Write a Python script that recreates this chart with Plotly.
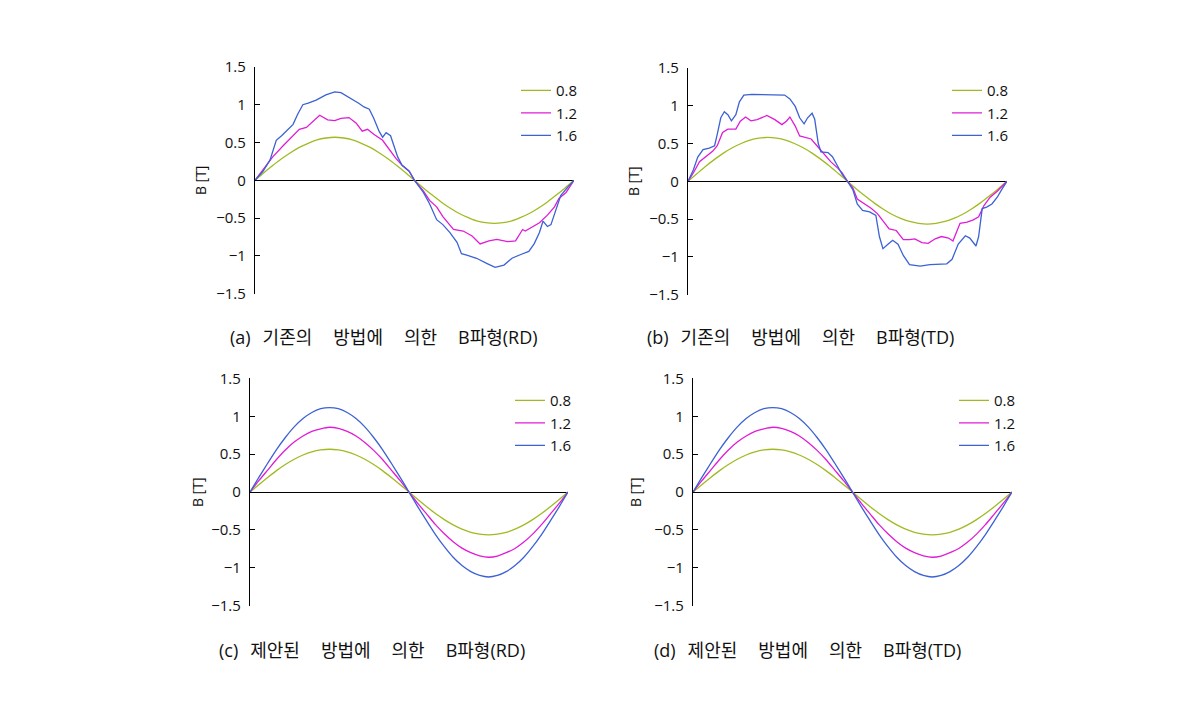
import plotly.graph_objects as go

W, H = 1190, 711

# ---------------- data (degrees of one period, flux density B [T]) ----------------
deg10 = [0, 10, 20, 30, 40, 50, 60, 70, 80, 90, 100, 110, 120, 130, 140, 150, 160, 170, 180,
         190, 200, 210, 220, 230, 240, 250, 260, 270, 280, 290, 300, 310, 320, 330, 340, 350, 360]

# (a) conventional method, RD
green_a = [0, 0.10, 0.195, 0.285, 0.365, 0.435, 0.49, 0.535, 0.56, 0.57, 0.56, 0.535, 0.49, 0.435, 0.365, 0.285, 0.195, 0.10, 0,
           -0.10, -0.195, -0.285, -0.365, -0.435, -0.49, -0.535, -0.56, -0.57, -0.56, -0.535, -0.49, -0.435, -0.365, -0.285, -0.195, -0.10, 0]
mag_a_deg = [0, 9, 20, 32, 43, 50, 58, 65, 73, 82, 90, 97, 106, 114, 121, 127, 134, 144, 151, 159, 166, 174, 180,
             190, 197, 205, 212, 224, 235, 245, 254, 264, 273, 285, 294, 302, 305, 313, 321, 330, 338, 343, 351, 360]
mag_a = [0, 0.14, 0.31, 0.46, 0.59, 0.675, 0.70, 0.78, 0.86, 0.80, 0.79, 0.82, 0.83, 0.76, 0.65, 0.675, 0.61, 0.53, 0.42, 0.29, 0.20, 0.12, 0,
         -0.14, -0.265, -0.35, -0.48, -0.65, -0.67, -0.735, -0.84, -0.80, -0.78, -0.81, -0.80, -0.65, -0.67, -0.61, -0.56, -0.46, -0.35, -0.24, -0.16, 0]
blue_a_deg = [0, 9, 17, 24, 30, 35, 43, 48, 54, 60, 69, 80, 90, 97, 106, 117, 123, 129, 134, 140, 144, 148, 153, 157, 161, 166, 174, 180,
              190, 197, 205, 212, 220, 228, 233, 239, 250, 262, 271, 281, 290, 300, 309, 315, 321, 325, 330, 334, 340, 345, 353, 360]
blue_a = [0, 0.12, 0.27, 0.53, 0.59, 0.65, 0.74, 0.87, 1.0, 1.02, 1.06, 1.13, 1.17, 1.16, 1.10, 1.02, 0.97, 0.94, 0.82, 0.65, 0.57, 0.63, 0.59, 0.44, 0.31, 0.20, 0.12, 0,
          -0.16, -0.31, -0.52, -0.585, -0.69, -0.82, -0.97, -0.99, -1.03, -1.10, -1.15, -1.12, -1.03, -0.98, -0.94, -0.84, -0.69, -0.54, -0.61, -0.585, -0.39, -0.20, -0.09, 0]

# (b) conventional method, TD
green_b = [0, 0.10, 0.20, 0.29, 0.373, 0.444, 0.50, 0.545, 0.571, 0.58, 0.571, 0.545, 0.50, 0.444, 0.373, 0.29, 0.20, 0.10, 0,
           -0.10, -0.195, -0.285, -0.365, -0.435, -0.49, -0.53, -0.555, -0.565, -0.555, -0.53, -0.49, -0.435, -0.365, -0.285, -0.195, -0.10, 0]
mag_b_deg = [0, 6, 13, 20, 28, 33, 39, 45, 54, 59, 65, 71, 78, 89, 98, 106, 111, 115, 121, 126, 134, 139, 147, 154, 161, 169, 174, 180,
             186, 191, 199, 207, 214, 222, 227, 235, 243, 250, 256, 264, 271, 279, 286, 294, 299, 307, 315, 322, 328, 334, 341, 349, 354, 360]
mag_b = [0, 0.11, 0.26, 0.33, 0.40, 0.47, 0.645, 0.69, 0.69, 0.795, 0.85, 0.80, 0.815, 0.87, 0.815, 0.75, 0.795, 0.85, 0.73, 0.60, 0.57, 0.56, 0.45, 0.35, 0.26, 0.175, 0.11, 0,
         -0.085, -0.235, -0.30, -0.36, -0.43, -0.555, -0.63, -0.65, -0.77, -0.77, -0.76, -0.81, -0.82, -0.76, -0.73, -0.75, -0.79, -0.555, -0.54, -0.51, -0.47, -0.32, -0.21, -0.13, -0.065, 0]
blue_b_deg = [0, 6, 11, 17, 24, 30, 33, 37, 41, 45, 49, 54, 58, 63, 72, 83, 93, 102, 109, 115, 121, 126, 131, 135, 140, 143, 147, 150, 158, 163, 169, 174, 180,
              186, 191, 197, 205, 212, 216, 220, 226, 231, 237, 243, 250, 262, 273, 284, 292, 298, 305, 313, 318, 325, 328, 332, 337, 343, 349, 354, 360]
blue_b = [0, 0.15, 0.32, 0.42, 0.44, 0.47, 0.62, 0.84, 0.92, 0.88, 0.80, 0.88, 1.05, 1.14, 1.15, 1.145, 1.14, 1.145, 1.14, 1.09, 0.99, 0.84, 0.76, 0.84, 0.90, 0.82, 0.50, 0.39, 0.38, 0.325, 0.20, 0.09, 0,
          -0.11, -0.30, -0.385, -0.405, -0.45, -0.73, -0.89, -0.83, -0.78, -0.83, -0.98, -1.10, -1.12, -1.10, -1.10, -1.09, -1.03, -0.83, -0.72, -0.75, -0.855, -0.73, -0.36, -0.34, -0.30, -0.21, -0.11, 0]

# (c) proposed method, RD
green_c = [0, 0.098, 0.193, 0.283, 0.363, 0.433, 0.489, 0.531, 0.556, 0.565, 0.556, 0.531, 0.489, 0.433, 0.363, 0.283, 0.193, 0.098, 0,
           -0.098, -0.193, -0.283, -0.363, -0.433, -0.489, -0.531, -0.556, -0.565, -0.556, -0.531, -0.489, -0.433, -0.363, -0.283, -0.193, -0.098, 0]
mag_c = [0, 0.15, 0.29, 0.43, 0.555, 0.66, 0.74, 0.80, 0.835, 0.855, 0.84, 0.80, 0.74, 0.655, 0.55, 0.43, 0.29, 0.15, 0,
         -0.15, -0.29, -0.43, -0.55, -0.655, -0.74, -0.80, -0.84, -0.86, -0.845, -0.80, -0.745, -0.66, -0.555, -0.43, -0.29, -0.15, 0]
blue_c = [0, 0.195, 0.38, 0.56, 0.72, 0.86, 0.97, 1.05, 1.10, 1.115, 1.10, 1.05, 0.97, 0.86, 0.72, 0.56, 0.38, 0.195, 0,
          -0.195, -0.38, -0.56, -0.72, -0.86, -0.97, -1.05, -1.10, -1.12, -1.10, -1.05, -0.97, -0.86, -0.72, -0.56, -0.38, -0.195, 0]

# (d) proposed method, TD
green_d = [0, 0.098, 0.193, 0.283, 0.363, 0.433, 0.489, 0.531, 0.556, 0.565, 0.556, 0.531, 0.489, 0.433, 0.363, 0.283, 0.193, 0.098, 0,
           -0.098, -0.193, -0.283, -0.363, -0.433, -0.489, -0.531, -0.556, -0.565, -0.556, -0.531, -0.489, -0.433, -0.363, -0.283, -0.193, -0.098, 0]
mag_d = [0, 0.15, 0.29, 0.43, 0.555, 0.66, 0.74, 0.80, 0.835, 0.855, 0.84, 0.80, 0.74, 0.655, 0.55, 0.43, 0.29, 0.15, 0,
         -0.15, -0.29, -0.43, -0.55, -0.655, -0.74, -0.80, -0.84, -0.86, -0.845, -0.80, -0.745, -0.66, -0.555, -0.43, -0.29, -0.15, 0]
blue_d = [0, 0.195, 0.38, 0.56, 0.72, 0.86, 0.97, 1.05, 1.10, 1.115, 1.10, 1.05, 0.97, 0.86, 0.72, 0.56, 0.38, 0.195, 0,
          -0.195, -0.38, -0.56, -0.72, -0.86, -0.97, -1.05, -1.10, -1.12, -1.10, -1.05, -0.97, -0.86, -0.72, -0.56, -0.38, -0.195, 0]

series_names = ["0.8", "1.2", "1.6"]
y_tickvals = [-1.5, -1, -0.5, 0, 0.5, 1, 1.5]
y_ticktext = ["\u22121.5", "\u22121", "\u22120.5", "0", "0.5", "1", "1.5"]
GAP = "\u2003\u2009"
captions = [
    "(a)\u2002\u2009기존의" + GAP + "방법에" + GAP + "의한" + GAP + "B파형(RD)",
    "(b)\u2002\u2009기존의" + GAP + "방법에" + GAP + "의한" + GAP + "B파형(TD)",
    "(c)\u2002\u2009제안된" + GAP + "방법에" + GAP + "의한" + GAP + "B파형(RD)",
    "(d)\u2002\u2009제안된" + GAP + "방법에" + GAP + "의한" + GAP + "B파형(TD)",
]
y_title = "B [T]"

# ---------------- styling / layout ----------------
COLORS = ["#a0bb22", "#e01cd6", "#3c62d4"]
FONT = "Open Sans, Noto Sans CJK KR, sans-serif"

# panel boxes in pixels: (x_left, x_right, y_top, y_bottom)
boxes = [(255, 574, 57.5, 291), (688, 1007, 58.5, 292), (250, 568, 378, 612), (693, 1012, 378, 612)]
ytitle_pos = [(200, 174), (633, 175), (197, 495), (635, 495)]
caption_pos = [(228, 335), (645, 335), (217, 658), (652, 658)]
legend_pos = [(516, 65), (947, 65), (510, 384), (954, 384)]

panels = [
    [(deg10, green_a), (mag_a_deg, mag_a), (blue_a_deg, blue_a)],
    [(deg10, green_b), (mag_b_deg, mag_b), (blue_b_deg, blue_b)],
    [(deg10, green_c), (deg10, mag_c), (deg10, blue_c)],
    [(deg10, green_d), (deg10, mag_d), (deg10, blue_d)],
]

fig = go.Figure()
layout = dict(
    width=W, height=H, margin=dict(l=0, r=0, t=0, b=0),
    paper_bgcolor="white", plot_bgcolor="white",
    font=dict(family=FONT, size=15, color="#111111"),
    showlegend=True, annotations=[],
)

for i, panel in enumerate(panels):
    n = "" if i == 0 else str(i + 1)
    leg = "legend" if i == 0 else f"legend{i + 1}"
    for j, (xs, ys) in enumerate(panel):
        smooth = (j == 0) or i >= 2
        fig.add_trace(go.Scatter(
            x=xs, y=ys, mode="lines", name=series_names[j],
            line=dict(color=COLORS[j], width=1.3, shape="spline" if smooth else "linear", smoothing=0.6),
            xaxis="x" + n, yaxis="y" + n, legend=leg, hoverinfo="skip",
        ))
    xl, xr, yt, yb = boxes[i]
    layout["xaxis" + n] = dict(
        domain=[xl / W, xr / W], range=[0, 360], anchor="y" + n,
        showgrid=False, zeroline=False, showline=False, showticklabels=False, ticks="",
    )
    layout["yaxis" + n] = dict(
        domain=[1 - yb / H, 1 - yt / H], range=[-1.5, 1.5], anchor="x" + n,
        showgrid=False, zeroline=True, zerolinecolor="black", zerolinewidth=1.2,
        showline=True, linecolor="black", linewidth=1.2,
        ticks="inside", ticklen=5, tickcolor="black",
        tickvals=y_tickvals, ticktext=y_ticktext, ticklabelstandoff=5,
        tickfont=dict(size=15, color="#111111"),
    )
    lx, ly = legend_pos[i]
    layout[leg] = dict(
        x=lx / W, y=1 - ly / H, xanchor="left", yanchor="top",
        bgcolor="rgba(0,0,0,0)", borderwidth=0, font=dict(size=15, color="#111111"),
        tracegroupgap=0,
    )
    tx, ty = ytitle_pos[i]
    layout["annotations"].append(dict(
        text=y_title, x=tx / W, y=1 - ty / H, xref="paper", yref="paper",
        showarrow=False, textangle=-90, font=dict(size=14, color="#111111"),
        xanchor="center", yanchor="middle",
    ))
    cx, cy = caption_pos[i]
    layout["annotations"].append(dict(
        text=captions[i], x=cx / W, y=1 - cy / H, xref="paper", yref="paper",
        showarrow=False, font=dict(size=18, color="#111111"),
        xanchor="left", yanchor="middle",
    ))

fig.update_layout(**layout)
fig.write_html(
    "out.html",
    config={"displayModeBar": False},
    post_script=(
        "document.documentElement.style.margin='0';"
        "document.body.style.margin='0';"
        "document.documentElement.style.overflow='hidden';"
        "var gd=document.getElementById('{plot_id}');"
        "gd.style.position='fixed';gd.style.left='0px';gd.style.top='0px';"
    ),
)
